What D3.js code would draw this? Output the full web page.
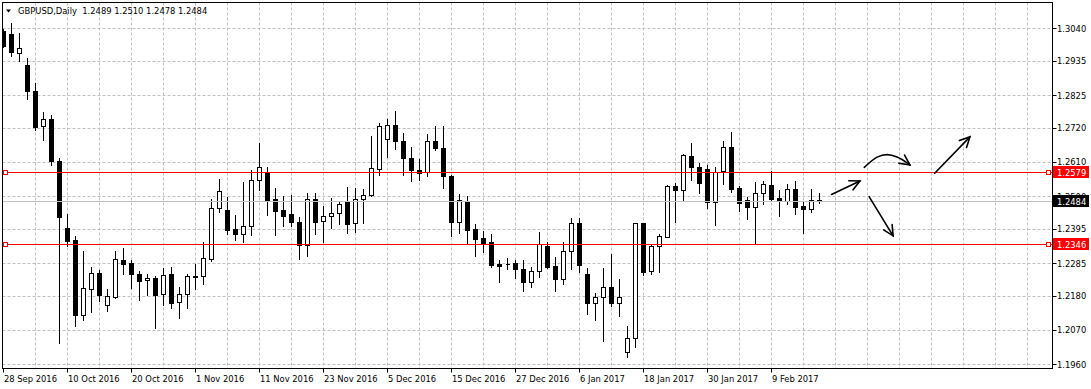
<!DOCTYPE html>
<html>
<head>
<meta charset="utf-8">
<script src="https://cdn.jsdelivr.net/npm/d3@7"></script>
<style>
  html, body { margin: 0; padding: 0; background: #fff; }
  svg { display: block; }
  text { font-family: Tahoma, "DejaVu Sans Condensed", "Liberation Sans", sans-serif; font-size: 9.3px; }
</style>
</head>
<body>
<div id="wrapper"></div>
<script>
// GBPUSD daily bars, first bar is 28 Sep 2016
const opens = [1.3030,1.3021,1.2962,1.2921,1.2840,1.2725,1.2747,1.2613,1.2397,1.2360,
  1.2119,1.2201,1.2252,1.2152,1.2177,1.2295,1.2285,1.2249,1.2230,1.2236,
  1.2187,1.2249,1.2161,1.2187,1.2243,1.2243,1.2298,1.2462,1.2455,1.2394,
  1.2378,1.2403,1.2552,1.2578,1.2491,1.2455,1.2443,1.2418,1.2342,1.2492,
  1.2420,1.2436,1.2446,1.2485,1.2414,1.2491,1.2503,1.2588,1.2684,1.2730,
  1.2678,1.2624,1.2585,1.2577,1.2678,1.2655,1.2566,1.2416,1.2485,1.2395,
  1.2366,1.2353,1.2282,1.2284,1.2285,1.2266,1.2223,1.2261,1.2340,1.2275,
  1.2235,1.2323,1.2414,1.2250,1.2158,1.2175,1.2207,1.2156,1.1998,1.2046,
  1.2414,1.2261,1.2341,1.2370,1.2533,1.2519,1.2631,1.2595,1.2589,1.2483,
  1.2580,1.2659,1.2526,1.2489,1.2467,1.2510,1.2536,1.2495,1.2485,1.2523,
  1.2469,1.2459,1.2489];
const highs = [1.3037,1.3058,1.3024,1.2946,1.2863,1.2772,1.2760,1.2624,1.2444,1.2373,
  1.2324,1.2273,1.2263,1.2201,1.2324,1.2333,1.2295,1.2260,1.2249,1.2244,
  1.2271,1.2273,1.2207,1.2249,1.2281,1.2352,1.2491,1.2556,1.2498,1.2440,
  1.2547,1.2585,1.2672,1.2594,1.2526,1.2501,1.2503,1.2433,1.2510,1.2510,
  1.2469,1.2495,1.2484,1.2530,1.2526,1.2522,1.2695,1.2736,1.2747,1.2775,
  1.2704,1.2657,1.2620,1.2701,1.2726,1.2725,1.2569,1.2508,1.2502,1.2410,
  1.2389,1.2379,1.2295,1.2301,1.2295,1.2295,1.2272,1.2385,1.2353,1.2304,
  1.2353,1.2431,1.2431,1.2269,1.2188,1.2270,1.2316,1.2233,1.2082,1.2415,
  1.2415,1.2342,1.2379,1.2536,1.2544,1.2636,1.2671,1.2607,1.2602,1.2593,
  1.2678,1.2707,1.2534,1.2497,1.2546,1.2550,1.2580,1.2521,1.2540,1.2550,
  1.2484,1.2523,1.2510];
const lows = [1.2979,1.2951,1.2935,1.2813,1.2714,1.2682,1.2599,1.2029,1.2341,1.2083,
  1.2103,1.2129,1.2163,1.2132,1.2173,1.2250,1.2206,1.2166,1.2182,1.2078,
  1.2150,1.2141,1.2109,1.2141,1.2203,1.2219,1.2292,1.2448,1.2378,1.2360,
  1.2352,1.2374,1.2521,1.2441,1.2377,1.2406,1.2403,1.2299,1.2309,1.2380,
  1.2354,1.2399,1.2412,1.2383,1.2386,1.2415,1.2502,1.2568,1.2626,1.2653,
  1.2568,1.2548,1.2552,1.2564,1.2650,1.2528,1.2373,1.2381,1.2351,1.2309,
  1.2322,1.2274,1.2225,1.2265,1.2238,1.2196,1.2207,1.2241,1.2270,1.2196,
  1.2217,1.2266,1.2258,1.2122,1.2102,1.2035,1.2147,1.2116,1.1983,1.2016,
  1.2247,1.2249,1.2258,1.2369,1.2416,1.2489,1.2553,1.2512,1.2464,1.2408,
  1.2541,1.2515,1.2454,1.2426,1.2347,1.2476,1.2489,1.2438,1.2475,1.2443,
  1.2381,1.2451,1.2478];
const closes = [1.2982,1.2964,1.2978,1.2838,1.2722,1.2747,1.2612,1.2432,1.2357,1.2119,
  1.2204,1.2252,1.2183,1.2181,1.2298,1.2283,1.2251,1.2229,1.2236,1.2183,
  1.2246,1.2158,1.2187,1.2243,1.2242,1.2301,1.2462,1.2517,1.2393,1.2380,
  1.2404,1.2553,1.2594,1.2486,1.2454,1.2438,1.2416,1.2345,1.2491,1.2419,
  1.2436,1.2446,1.2475,1.2412,1.2491,1.2504,1.2591,1.2726,1.2730,1.2677,
  1.2622,1.2583,1.2574,1.2678,1.2654,1.2564,1.2416,1.2489,1.2393,1.2364,
  1.2351,1.2280,1.2277,1.2283,1.2267,1.2223,1.2259,1.2346,1.2273,1.2235,
  1.2324,1.2414,1.2280,1.2158,1.2175,1.2207,1.2158,1.2175,1.2043,1.2414,
  1.2258,1.2341,1.2372,1.2533,1.2519,1.2634,1.2593,1.2544,1.2483,1.2578,
  1.2659,1.2524,1.2480,1.2467,1.2510,1.2539,1.2492,1.2486,1.2523,1.2465,
  1.2459,1.2489,1.2484];

// price scale labels (MT4 rounds them)
const yTicks = [1.3040,1.2935,1.2825,1.2720,1.2610,1.2500,1.2395,1.2285,1.2180,1.2070,1.1960];

// time scale labels, one every 8 bars
const xLabels = ["28 Sep 2016","10 Oct 2016","20 Oct 2016","1 Nov 2016","11 Nov 2016","23 Nov 2016",
  "5 Dec 2016","15 Dec 2016","27 Dec 2016","6 Jan 2017","18 Jan 2017","30 Jan 2017","9 Feb 2017"];
const xLabelBars = [0,8,16,24,32,40,48,56,64,72,80,88,96];

// horizontal levels and current bid
const levels = [1.2579, 1.2346];
const bid = 1.2484;
const header = "GBPUSD,Daily  1.2489 1.2510 1.2478 1.2484";

// hand drawn scenario arrows, [bar, price]
const arrowUp1 = [[103.5,1.2506],[107.06,1.2549]];
const arrowCurve = [[107.6,1.2593],[109.2,1.2626],[110.45,1.2634],[111.7,1.2626],[113.3,1.2601]];
const arrowDown = [[108.2,1.2499],[111.2,1.2373]];
const arrowUp2 = [[116.4,1.2574],[120.8,1.2691]];

const W = 1091, H = 389;
const plot = {left: 2.5, right: 1052.5, top: 2.5, bottom: 368.5};

const x = d3.scaleLinear().domain([0, 130]).range([3.5, 1043.5]);
const y = d3.scaleLinear().domain([1.1960, 1.3040]).range([364.3, 28.3]);
const snap = v => Math.round(v) + 0.5;

const svg = d3.select("#wrapper")
  .append("svg")
  .attr("width", W)
  .attr("height", H);

svg.append("defs").append("clipPath")
  .attr("id", "plotclip")
  .append("rect")
  .attr("x", plot.left).attr("y", plot.top)
  .attr("width", plot.right - plot.left).attr("height", plot.bottom - plot.top);

svg.select("defs").append("marker")
  .attr("id", "head")
  .attr("markerUnits", "userSpaceOnUse")
  .attr("viewBox", "-12 -7 14 14")
  .attr("markerWidth", 14).attr("markerHeight", 14)
  .attr("refX", 0).attr("refY", 0)
  .attr("orient", "auto")
  .append("path")
  .attr("d", "M-10,-5L0,0L-10,5")
  .attr("fill", "none")
  .attr("stroke", "#000")
  .attr("stroke-width", 1.6)
  .attr("stroke-linecap", "round");

// Grid
const grid = svg.append("g").attr("stroke", "#c0c0c0").attr("stroke-dasharray", "3,2");
grid.selectAll("line.v")
  .data(d3.range(4, 129, 4))
  .enter().append("line")
  .attr("x1", d => x(d)).attr("x2", d => x(d))
  .attr("y1", plot.top).attr("y2", plot.bottom);
grid.selectAll("line.h")
  .data(yTicks)
  .enter().append("line")
  .attr("x1", plot.left).attr("x2", plot.right)
  .attr("y1", d => snap(y(d))).attr("y2", d => snap(y(d)));

// Candles
const bars = d3.range(opens.length);
const cg = svg.append("g").attr("clip-path", "url(#plotclip)").attr("shape-rendering", "crispEdges");
cg.selectAll("line.wick")
  .data(bars)
  .enter().append("line")
  .attr("x1", i => x(i)).attr("x2", i => x(i))
  .attr("y1", i => Math.round(y(highs[i])))
  .attr("y2", i => Math.round(y(lows[i])) + 1)
  .attr("stroke", "#000");
cg.selectAll("path.body")
  .data(bars)
  .enter().append("path")
  .attr("d", i => {
    const top = Math.round(y(Math.max(opens[i], closes[i])));
    const bot = Math.round(y(Math.min(opens[i], closes[i])));
    return `M${x(i) - 2},${top + 0.5}h4v${bot - top}h-4z`;
  })
  .attr("fill", i => closes[i] > opens[i] ? "#fff" : "#000")
  .attr("stroke", "#000");

// Bid line
svg.append("line")
  .attr("x1", plot.left).attr("x2", plot.right)
  .attr("y1", snap(y(bid))).attr("y2", snap(y(bid)))
  .attr("stroke", "#c0c0c0");

// Horizontal levels with their end squares
const lv = svg.append("g");
lv.selectAll("line")
  .data(levels)
  .enter().append("line")
  .attr("x1", plot.left).attr("x2", plot.right)
  .attr("y1", d => snap(y(d))).attr("y2", d => snap(y(d)))
  .attr("stroke", "#ff0000");
lv.selectAll("rect")
  .data(levels.flatMap(d => [[3.5, d], [1046.5, d]]))
  .enter().append("rect")
  .attr("x", d => d[0]).attr("y", d => snap(y(d[1])) - 2)
  .attr("width", 4).attr("height", 4)
  .attr("fill", "#fff").attr("stroke", "#ff0000")
  .attr("shape-rendering", "crispEdges");

// Arrows
const line = d3.line().x(d => x(d[0])).y(d => y(d[1]));
const curved = d3.line().x(d => x(d[0])).y(d => y(d[1])).curve(d3.curveCatmullRom);
svg.append("g")
  .selectAll("path")
  .data([arrowUp1, arrowCurve, arrowDown, arrowUp2])
  .enter().append("path")
  .attr("d", d => d.length > 2 ? curved(d) : line(d))
  .attr("fill", "none")
  .attr("stroke", "#000")
  .attr("stroke-width", 1.6)
  .attr("stroke-linecap", "round")
  .attr("marker-end", "url(#head)");

// Frame
svg.append("rect")
  .attr("x", plot.left).attr("y", plot.top)
  .attr("width", plot.right - plot.left).attr("height", plot.bottom - plot.top)
  .attr("fill", "none").attr("stroke", "#000");

// Price scale
const ya = svg.append("g");
ya.selectAll("line")
  .data(yTicks)
  .enter().append("line")
  .attr("x1", plot.right).attr("x2", plot.right + 4)
  .attr("y1", d => snap(y(d))).attr("y2", d => snap(y(d)))
  .attr("stroke", "#000");
ya.selectAll("text")
  .data(yTicks)
  .enter().append("text")
  .attr("x", 1057).attr("y", d => y(d) + 3.4)
  .attr("fill", "#000")
  .text(d => d.toFixed(4));

// price boxes on the scale
const boxes = [[levels[0], "#ff0000"], [bid, "#000"], [levels[1], "#ff0000"]];
const bx = svg.append("g");
bx.selectAll("rect")
  .data(boxes)
  .enter().append("rect")
  .attr("x", 1053).attr("y", d => Math.round(y(d[0])) - 6)
  .attr("width", 36).attr("height", 12)
  .attr("fill", d => d[1]);
bx.selectAll("text")
  .data(boxes)
  .enter().append("text")
  .attr("x", 1057).attr("y", d => Math.round(y(d[0])) + 3.6)
  .attr("fill", "#fff")
  .text(d => d[0].toFixed(4));

// Time scale
const xa = svg.append("g");
xa.selectAll("line")
  .data(xLabelBars)
  .enter().append("line")
  .attr("x1", d => x(d)).attr("x2", d => x(d))
  .attr("y1", plot.bottom).attr("y2", plot.bottom + 4)
  .attr("stroke", "#000");
xa.selectAll("text")
  .data(xLabels)
  .enter().append("text")
  .attr("x", (d, i) => x(xLabelBars[i]) + 0.5)
  .attr("y", 382)
  .attr("fill", "#000")
  .text(d => d);

// Header
svg.append("path").attr("d", "M6,9.5L11,9.5L8.5,12.5Z").attr("fill", "#000");
svg.append("text")
  .attr("x", 18).attr("y", 14)
  .attr("fill", "#000")
  .style("white-space", "pre")
  .text(header);
</script>
</body>
</html>
